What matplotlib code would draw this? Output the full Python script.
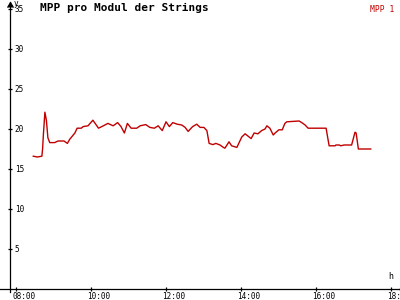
import matplotlib.pyplot as plt

# MPP values (time in decimal hours)
hours = [8.46, 8.57, 8.69, 8.71, 8.73, 8.77, 8.81, 8.85, 8.90, 9.03, 9.12, 9.28, 9.37, 9.43,
         9.57, 9.63, 9.74, 9.79, 9.92, 10.05, 10.20, 10.33, 10.45, 10.59, 10.71, 10.80, 10.89,
         10.97, 11.07, 11.22, 11.31, 11.46, 11.57, 11.69, 11.79, 11.90, 12.00, 12.09, 12.18,
         12.30, 12.42, 12.51, 12.59, 12.71, 12.82, 12.91, 13.01, 13.09, 13.15, 13.25, 13.33,
         13.44, 13.53, 13.57, 13.68, 13.75, 13.89, 14.02, 14.11, 14.19, 14.27, 14.35, 14.45,
         14.55, 14.64, 14.69, 14.77, 14.86, 14.91, 15.01, 15.10, 15.17, 15.22, 15.55, 15.62,
         15.71, 15.79, 16.27, 16.30, 16.35, 16.51, 16.53, 16.62, 16.66, 16.75, 16.95, 17.04,
         17.07, 17.13, 17.46]
mpp = [16.6, 16.5, 16.6, 17.6, 19.3, 22.1, 21.1, 18.9, 18.3, 18.3, 18.5, 18.5, 18.2, 18.7,
       19.5, 20.1, 20.1, 20.3, 20.4, 21.1, 20.1, 20.4, 20.7, 20.4, 20.8, 20.3, 19.5,
       20.7, 20.1, 20.1, 20.4, 20.55, 20.2, 20.1, 20.4, 19.8, 20.9, 20.3, 20.8,
       20.6, 20.5, 20.2, 19.7, 20.3, 20.6, 20.2, 20.2, 19.8, 18.2, 18.05, 18.2,
       18.0, 17.7, 17.6, 18.4, 17.9, 17.7, 19.0, 19.4, 19.1, 18.8, 19.5, 19.4,
       19.8, 20.0, 20.4, 20.1, 19.25, 19.5, 19.9, 19.9, 20.7, 20.9, 21.0, 20.8,
       20.5, 20.1, 20.1, 19.25, 17.9, 17.9, 18.0, 18.0, 17.9, 18.0, 18.0, 19.6,
       19.5, 17.5, 17.5]

x_ticks = [8, 10, 12, 14, 16, 18]
x_labels = ['08:00', '10:00', '12:00', '14:00', '16:00', '18:00']
y_ticks = [5, 10, 15, 20, 25, 30, 35]

mono = 'DejaVu Sans Mono'
red = '#c00000'

fig = plt.figure(figsize=(4, 3), dpi=100)
ax = fig.add_axes([0, 0, 1, 1])
ax.set_xlim(7.573, 18.24)
ax.set_ylim(-1.375, 36.125)

x0 = 7.84  # where the y axis sits

ax.plot(hours, mpp, color=red, lw=1.0)

for s in ['top', 'right']:
    ax.spines[s].set_visible(False)
ax.spines['left'].set_position(('data', x0))
ax.spines['bottom'].set_position(('data', 0))
ax.spines['left'].set_bounds(-0.4, 35.9)
ax.spines['bottom'].set_bounds(7.573, 18.2)
for s in ['left', 'bottom']:
    ax.spines[s].set_linewidth(0.9)

# arrow heads
ax.plot(18.2, 0, marker=4, color='k', ms=5, mew=0.8, clip_on=False)
ax.plot(x0, 35.9, marker=6, color='k', ms=5, mew=0.8, clip_on=False)

ax.set_xticks(x_ticks)
ax.set_yticks(y_ticks)
ax.set_xticklabels([])
ax.set_yticklabels([])
ax.tick_params(direction='inout', length=3.5, width=0.9)

for t, lab in zip(x_ticks, x_labels):
    ax.text(t - 0.1, -1.22, lab, fontsize=5.5, family=mono, ha='left', va='baseline')
for v in y_ticks:
    ax.text(x0 + 0.13, v, str(v), fontsize=5.5, family=mono, ha='left', va='center')

ax.text(x0 + 0.1, 35.7, 'y', fontsize=5.5, family=mono, ha='left', va='center')
ax.text(17.99, 1.0, 'h', fontsize=6, family=mono, ha='center', va='bottom')

fig.text(0.1, 0.973, 'MPP pro Modul der Strings', fontsize=8, family=mono,
         weight='bold', ha='left', va='center')
fig.text(0.985, 0.985, 'MPP 1', fontsize=5.8, family=mono, color=red,
         ha='right', va='top')

fig.savefig('out.png', dpi=100)
